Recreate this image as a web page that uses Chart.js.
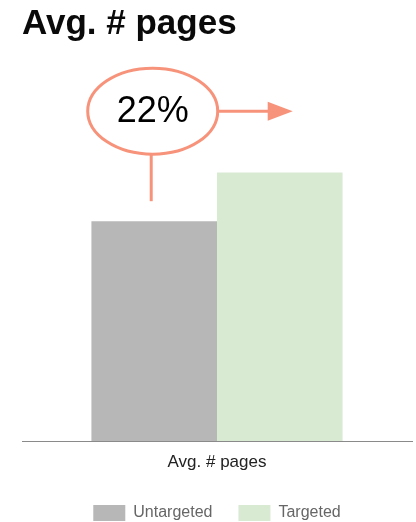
<!DOCTYPE html>
<html>
<head>
<meta charset="utf-8">
<script src="https://cdn.jsdelivr.net/npm/chart.js@4/dist/chart.umd.min.js"></script>
<style>
  html, body { margin: 0; padding: 0; background: #ffffff; }
  #wrap { width: 416px; height: 522px; }
</style>
</head>
<body>
<div id="wrap"><canvas id="c" width="416" height="522"></canvas></div>
<script>
// ---- data ----
const categories = ["Avg. # pages"];
const seriesNames = ["Untargeted", "Targeted"];
const untargetedValues = [2.26];
const targetedValues = [2.76];
const chartTitle = "Avg. # pages";

const FONT = "'Liberation Sans', Arial, Helvetica, sans-serif";
const SALMON = "#f7937b";

// callout annotation: percentage lift computed from the data
const calloutPlugin = {
  id: "callout",
  afterDatasetsDraw(chart) {
    const b0 = chart.getDatasetMeta(0).data[0];
    if (!b0) return;
    const ctx = chart.ctx;
    const lift = Math.round((targetedValues[0] / untargetedValues[0] - 1) * 100);
    const cx = b0.x - 1.5;
    const cy = b0.y - 110;
    const rx = 65, ry = 43;
    ctx.save();
    ctx.strokeStyle = SALMON;
    ctx.fillStyle = SALMON;
    ctx.lineWidth = 3;
    // ellipse
    ctx.beginPath();
    ctx.ellipse(cx, cy, rx, ry, 0, 0, Math.PI * 2);
    ctx.stroke();
    // stem down to the bar
    ctx.beginPath();
    ctx.moveTo(cx - 1.5, cy + ry);
    ctx.lineTo(cx - 1.5, b0.y - 20);
    ctx.stroke();
    // arrow to the right
    const ax0 = cx + rx, ax1 = cx + rx + 75;
    ctx.beginPath();
    ctx.moveTo(ax0, cy);
    ctx.lineTo(ax1 - 22, cy);
    ctx.stroke();
    ctx.beginPath();
    ctx.moveTo(ax1 - 25, cy - 9.5);
    ctx.lineTo(ax1, cy);
    ctx.lineTo(ax1 - 25, cy + 9.5);
    ctx.closePath();
    ctx.fill();
    // text
    ctx.fillStyle = "#000000";
    ctx.font = "36px " + FONT;
    ctx.textAlign = "center";
    ctx.textBaseline = "middle";
    ctx.fillText(lift + "%", cx, cy + 1);
    ctx.restore();
  }
};

new Chart(document.getElementById("c"), {
  type: "bar",
  data: {
    labels: categories,
    datasets: [
      { label: seriesNames[0], data: untargetedValues, backgroundColor: "#b7b7b7" },
      { label: seriesNames[1], data: targetedValues, backgroundColor: "#d9ead3" }
    ]
  },
  options: {
    responsive: false,
    animation: false,
    devicePixelRatio: 1,
    layout: { padding: { left: 22, right: 4, top: 0, bottom: -9 } },
    datasets: { bar: { categoryPercentage: 0.644, barPercentage: 1 } },
    scales: {
      x: {
        grid: { display: false, drawTicks: false },
        border: { display: true, color: "#8a8a8a", width: 1 },
        ticks: { color: "#222222", font: { family: FONT, size: 17 }, padding: 11 },
        afterFit(scale) { scale.height = 38; }
      },
      y: { display: false, min: 0, max: 4 }
    },
    plugins: {
      title: {
        display: true,
        text: chartTitle,
        align: "start",
        color: "#0a0a0a",
        font: { family: FONT, size: 35, weight: "bold" },
        padding: { top: 3, bottom: 7 }
      },
      legend: {
        position: "bottom",
        labels: {
          boxWidth: 32,
          boxHeight: 16,
          padding: 26,
          color: "#666666",
          font: { family: FONT, size: 16 }
        }
      },
      tooltip: { enabled: false }
    }
  },
  plugins: [calloutPlugin]
});
</script>
</body>
</html>
